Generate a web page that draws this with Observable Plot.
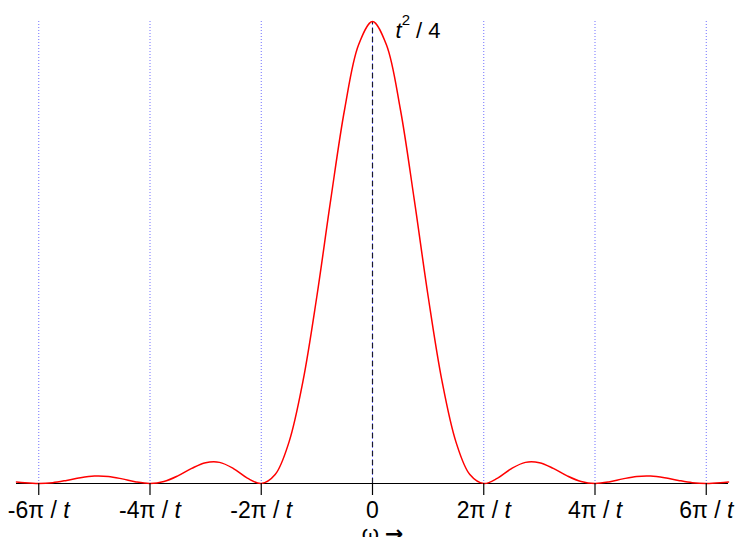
<!DOCTYPE html>
<html>
<head>
<meta charset="utf-8">
<script src="https://cdn.jsdelivr.net/npm/d3@7"></script>
<script src="https://cdn.jsdelivr.net/npm/@observablehq/plot@0.6"></script>
<style>
  html, body { margin: 0; padding: 0; background: white; }
</style>
</head>
<body>
<div id="chart"></div>
<script>
// ω in units of π/t
const omega = [-6.4, -6.25, -6, -5.75, -5.5, -5.25, -5, -4.75, -4.5, -4.25, -4, -3.75, -3.5, -3.25, -3, -2.75, -2.5, -2.25, -2, -1.75, -1.5, -1.25, -1, -0.75, -0.5, -0.25, 0,
  0.25, 0.5, 0.75, 1, 1.25, 1.5, 1.75, 2, 2.25, 2.5, 2.75, 3, 3.25, 3.5, 3.75, 4, 4.25, 4.5, 4.75, 5, 5.25, 5.5, 5.75, 6, 6.25, 6.4];
// intensity in units of t²/4
const intensity = [0.0034, 0.0015, 0, 0.0018, 0.0067, 0.0126, 0.0162, 0.0153, 0.0100, 0.0033, 0, 0.0042, 0.0165, 0.0328, 0.0450, 0.0457, 0.0324, 0.0117, 0, 0.0194, 0.0901, 0.2214, 0.4053, 0.6150, 0.8106, 0.9497, 1,
  0.9497, 0.8106, 0.6150, 0.4053, 0.2214, 0.0901, 0.0194, 0, 0.0117, 0.0324, 0.0457, 0.0450, 0.0328, 0.0165, 0.0042, 0, 0.0033, 0.0100, 0.0153, 0.0162, 0.0126, 0.0067, 0.0018, 0, 0.0015, 0.0034];

const tickValues = [-6, -4, -2, 0, 2, 4, 6];
const tickLabels = ["-6π / t", "-4π / t", "-2π / t", "0", "2π / t", "4π / t", "6π / t"];
const gridValues = [-6, -4, -2, 0, 2, 4, 6];
const peakLabel = "t2 / 4";
const xLabel = "ω →";

const data = omega.map((w, i) => ({w, v: intensity[i]}));

const svg = Plot.plot({
  width: 741,
  height: 537,
  marginLeft: 16,
  marginRight: 13,
  marginTop: 21,
  marginBottom: 54,
  style: {fontFamily: "'Liberation Sans', Arial, sans-serif", background: "white", color: "black"},
  x: {domain: [-6.4, 6.4]},
  y: {domain: [0, 1], axis: null},
  marks: [
    Plot.ruleX(gridValues, {stroke: "#7070ff", strokeWidth: 1, strokeDasharray: "1,2"}),
    Plot.ruleX([0], {y1: 0, y2: 1, stroke: "#1a1a2e", strokeWidth: 1.2, strokeDasharray: "5,4"}),
    Plot.ruleY([0], {stroke: "black", strokeWidth: 1.2}),
    Plot.line(data, {x: "w", y: "v", stroke: "red", strokeWidth: 1.5, curve: "catmull-rom"}),
    Plot.axisX({ticks: tickValues, tickFormat: d => tickLabels[tickValues.indexOf(d)], tickSize: 12, tickPadding: 6, fontSize: 23, label: null, strokeWidth: 1.2}),
    Plot.text([peakLabel], {x: () => 0, y: () => 1, text: d => d, textAnchor: "start", dx: 23, dy: 9, fontSize: 22}),
    Plot.text([xLabel], {x: () => 0, text: d => d, frameAnchor: "bottom", dx: 10, dy: 57, fontSize: 22})
  ]
});

// italic "t" in tick labels
d3.select(svg).selectAll('g[aria-label="x-axis tick label"] text').each(function() {
  const s = this.textContent;
  if (s.endsWith("t")) {
    this.textContent = s.slice(0, -1);
    d3.select(this).append("tspan").attr("font-style", "italic").text("t");
  }
});

const textGroups = d3.select(svg).selectAll('g[aria-label="text"]').nodes();
// peak label: italic t with superscript 2
if (textGroups.length) {
  const t = d3.select(textGroups[0]).select("text");
  t.text(null);
  t.append("tspan").attr("font-style", "italic").text("t");
  t.append("tspan").attr("font-size", 15).attr("dy", -13).text("2");
  t.append("tspan").attr("dy", 13).text(" / 4");
}
// axis label: larger arrow glyph
if (textGroups.length > 1) {
  const t = d3.select(textGroups[1]).select("text");
  t.text(null);
  t.append("tspan").text("ω ");
  t.append("tspan").attr("font-family", "'DejaVu Sans', sans-serif").attr("font-weight", "bold").text("→");
}

document.getElementById("chart").appendChild(svg);
</script>
</body>
</html>
